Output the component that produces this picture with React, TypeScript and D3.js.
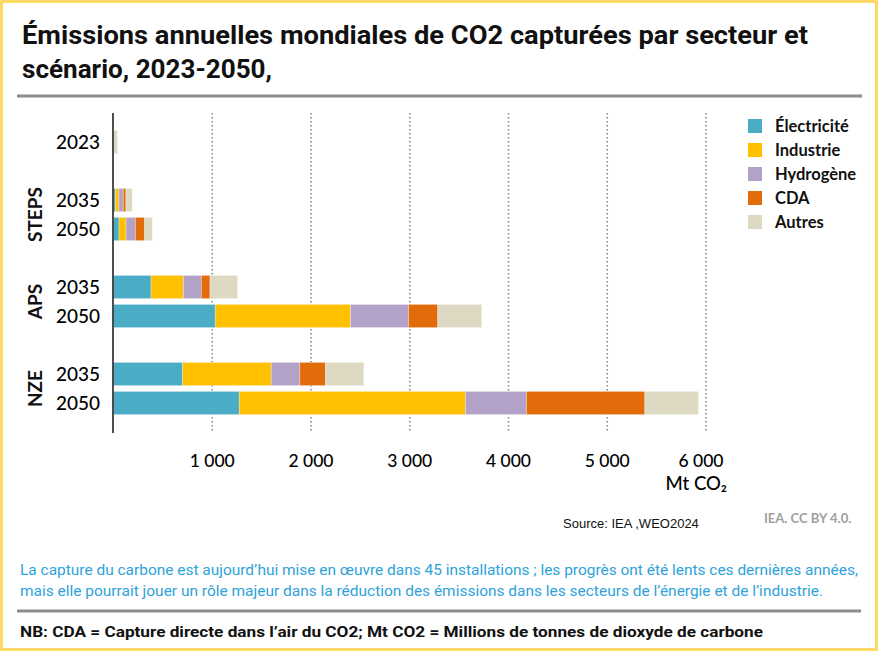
import * as d3 from "d3";
import React, { useEffect, useRef } from "react";

const ROWS = ["2023", "STEPS 2035", "STEPS 2050", "APS 2035", "APS 2050", "NZE 2035", "NZE 2050"];
const ROW_LABELS = ["2023", "2035", "2050", "2035", "2050", "2035", "2050"];
// empty slots keep the gap between scenario groups
const SLOTS = ["2023", "g1", "STEPS 2035", "STEPS 2050", "g2", "APS 2035", "APS 2050", "g3", "NZE 2035", "NZE 2050"];
const SCENARIOS = ["STEPS", "APS", "NZE"];

const SECTORS = ["Électricité", "Industrie", "Hydrogène", "CDA", "Autres"];
const COLORS = ["#4BACC6", "#FFC000", "#B3A2C7", "#E36C0A", "#DDD9C3"];

const ELECTRICITE = [0, 18, 56, 380, 1030, 700, 1273];
const INDUSTRIE = [0, 37, 71, 327, 1370, 897, 2291];
const HYDROGENE = [0, 44, 94, 182, 587, 290, 617];
const CDA = [0, 27, 95, 88, 297, 260, 1200];
const AUTRES = [40, 64, 77, 280, 445, 388, 543];

const TICKS = [1000, 2000, 3000, 4000, 5000, 6000];

const TITLE = [
  "Émissions annuelles mondiales de CO2 capturées par secteur et",
  "scénario, 2023-2050,",
];
const NOTE = [
  "La capture du carbone est aujourd’hui mise en œuvre dans 45 installations ; les progrès ont été lents ces dernières années,",
  "mais elle pourrait jouer un rôle majeur dans la réduction des émissions dans les secteurs de l’énergie et de l’industrie.",
];
const NB = "NB: CDA = Capture directe dans l’air du CO2; Mt CO2 = Millions de tonnes de dioxyde de carbone";

const NARROW = "'Liberation Sans Narrow', 'Roboto', 'Liberation Sans', sans-serif";
const BODY = "Lato, 'Open Sans', sans-serif";

export default function App() {
  const svgRef = useRef<SVGSVGElement | null>(null);

  useEffect(() => {
    const svg = d3.select(svgRef.current);
    svg.selectAll("*").remove();
    const W = 878, H = 651;

    svg.append("rect").attr("width", W).attr("height", H).attr("fill", "#fff");
    svg.append("rect")
      .attr("x", 1.5).attr("y", 1.5).attr("width", W - 3).attr("height", H - 3)
      .attr("fill", "none").attr("stroke", "#FFD966").attr("stroke-width", 3);

    // title
    TITLE.forEach((t, i) => {
      svg.append("text")
        .attr("x", 22).attr("y", 44 + i * 34)
        .attr("font-family", NARROW).attr("font-weight", 700).attr("font-size", 25)
        .attr("fill", "#111")
        .attr("textLength", i === 0 ? 786 : 250).attr("lengthAdjust", "spacingAndGlyphs")
        .text(t);
    });

    svg.append("line").attr("x1", 17).attr("x2", 862).attr("y1", 96).attr("y2", 96)
      .attr("stroke", "#8c8c8c").attr("stroke-width", 3);

    const x = d3.scaleLinear().domain([0, 6000]).range([113.5, 706]);
    const y = d3.scaleBand<string>().domain(SLOTS).range([127.5, 417.5])
      .paddingInner(0.2).paddingOuter(0.1);

    // gridlines
    svg.append("g").selectAll("line").data(TICKS).join("line")
      .attr("x1", d => x(d)).attr("x2", d => x(d))
      .attr("y1", 113).attr("y2", 432)
      .attr("stroke", "#8a8a8a").attr("stroke-width", 1.6)
      .attr("stroke-dasharray", "1.4,2.6");

    // stacked bars
    const table = ROWS.map((r, i) => ({
      row: r,
      "Électricité": ELECTRICITE[i],
      "Industrie": INDUSTRIE[i],
      "Hydrogène": HYDROGENE[i],
      "CDA": CDA[i],
      "Autres": AUTRES[i],
    }));
    const series = d3.stack<any>().keys(SECTORS)(table);
    const color = d3.scaleOrdinal<string, string>().domain(SECTORS).range(COLORS);

    svg.append("g").selectAll("g").data(series).join("g")
      .attr("fill", d => color(d.key))
      .selectAll("rect").data(d => d).join("rect")
      .attr("x", d => x(d[0]))
      .attr("width", d => Math.max(0, x(d[1]) - x(d[0])))
      .attr("y", d => y(d.data.row) as number)
      .attr("height", y.bandwidth())
      .attr("stroke", "rgba(255,255,255,0.5)").attr("stroke-width", 0.6);

    // vertical axis
    svg.append("line").attr("x1", 113).attr("x2", 113).attr("y1", 113).attr("y2", 433)
      .attr("stroke", "#222").attr("stroke-width", 1.6);

    // row labels
    svg.append("g").selectAll("text").data(ROWS).join("text")
      .attr("x", 100)
      .attr("y", d => (y(d) as number) + y.bandwidth() / 2)
      .attr("dy", "0.36em")
      .attr("text-anchor", "end")
      .attr("font-family", BODY).attr("font-weight", 500).attr("font-size", 19)
      .attr("fill", "#000")
      .text((_d, i) => ROW_LABELS[i]);

    // scenario labels
    SCENARIOS.forEach(s => {
      const a = y(`${s} 2035`) as number;
      const b = (y(`${s} 2050`) as number) + y.bandwidth();
      svg.append("text")
        .attr("transform", `translate(42,${(a + b) / 2}) rotate(-90)`)
        .attr("text-anchor", "middle")
        .attr("font-family", BODY).attr("font-weight", 700).attr("font-size", 19)
        .attr("fill", "#111")
        .text(s);
    });

    // x tick labels
    svg.append("g").selectAll("text").data(TICKS).join("text")
      .attr("x", d => x(d) - (d === 6000 ? 5 : 0))
      .attr("y", 467)
      .attr("text-anchor", "middle")
      .attr("font-family", BODY).attr("font-weight", 500).attr("font-size", 17.5)
      .attr("fill", "#000")
      .text(d => d3.format(",")(d).replace(",", " "));

    svg.append("text").attr("x", 727).attr("y", 490).attr("text-anchor", "end")
      .attr("font-family", BODY).attr("font-weight", 500).attr("font-size", 18.5)
      .attr("fill", "#000")
      .text("Mt CO₂");

    // legend
    const leg = svg.append("g").selectAll("g").data(SECTORS).join("g")
      .attr("transform", (_d, i) => `translate(748,${119 + i * 24})`);
    leg.append("rect").attr("width", 14).attr("height", 14).attr("fill", d => color(d));
    leg.append("text").attr("x", 27).attr("y", 13)
      .attr("font-family", BODY).attr("font-weight", 700).attr("font-size", 16.5)
      .attr("fill", "#111")
      .text(d => d);

    // source
    svg.append("text").attr("x", 563).attr("y", 528)
      .attr("font-family", "'Liberation Sans', Arial, sans-serif").attr("font-size", 13)
      .attr("fill", "#111").text("Source: IEA ,WEO2024");
    svg.append("text").attr("x", 764).attr("y", 523)
      .attr("font-family", BODY).attr("font-weight", 700).attr("font-size", 13)
      .attr("fill", "#a0a0a0").text("IEA. CC BY 4.0.");

    // note
    NOTE.forEach((t, i) => {
      svg.append("text")
        .attr("x", 20).attr("y", 575 + i * 21)
        .attr("font-family", NARROW).attr("font-size", 15)
        .attr("fill", "#2FA3DA")
        .attr("textLength", i === 0 ? 838 : 803).attr("lengthAdjust", "spacingAndGlyphs")
        .text(t);
    });

    svg.append("line").attr("x1", 17).attr("x2", 861).attr("y1", 611).attr("y2", 611)
      .attr("stroke", "#8c8c8c").attr("stroke-width", 3);

    svg.append("text")
      .attr("x", 20).attr("y", 637)
      .attr("font-family", NARROW).attr("font-weight", 700).attr("font-size", 15.5)
      .attr("fill", "#111")
      .attr("textLength", 743).attr("lengthAdjust", "spacingAndGlyphs")
      .text(NB);
  }, []);

  return (
    <svg
      ref={svgRef}
      width={878}
      height={651}
      style={{ position: "absolute", left: 0, top: 0 }}
    />
  );
}
